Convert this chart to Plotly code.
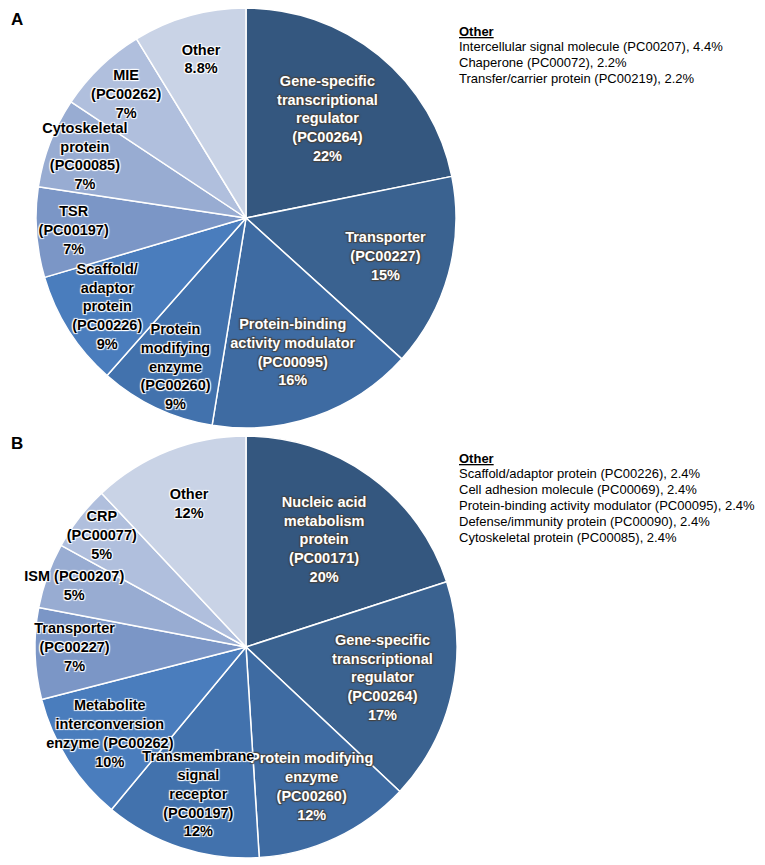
import plotly.graph_objects as go

# ---- Data ----
a_labels = ["Gene-specific transcriptional regulator (PC00264)", "Transporter (PC00227)",
            "Protein-binding activity modulator (PC00095)", "Protein modifying enzyme (PC00260)",
            "Scaffold/adaptor protein (PC00226)", "TSR (PC00197)", "Cytoskeletal protein (PC00085)",
            "MIE (PC00262)", "Other"]
a_values = [22, 15, 16, 9, 9, 7, 7, 7, 8.8]
a_display = ["Gene-specific<br>transcriptional<br>regulator<br>(PC00264)", "Transporter<br>(PC00227)",
             "Protein-binding<br>activity modulator<br>(PC00095)", "Protein<br>modifying<br>enzyme<br>(PC00260)",
             "Scaffold/<br>adaptor<br>protein<br>(PC00226)", "TSR<br>(PC00197)",
             "Cytoskeletal<br>protein<br>(PC00085)", "MIE<br>(PC00262)", "Other"]

b_labels = ["Nucleic acid metabolism protein (PC00171)", "Gene-specific transcriptional regulator (PC00264)",
            "Protein modifying enzyme (PC00260)", "Transmembrane signal receptor (PC00197)",
            "Metabolite interconversion enzyme (PC00262)", "Transporter (PC00227)",
            "ISM (PC00207)", "CRP (PC00077)", "Other"]
b_values = [20, 17, 12, 12, 10, 7, 5, 5, 12]
b_display = ["Nucleic acid<br>metabolism<br>protein<br>(PC00171)",
             "Gene-specific<br>transcriptional<br>regulator<br>(PC00264)",
             "Protein modifying<br>enzyme<br>(PC00260)", "Transmembrane<br>signal<br>receptor<br>(PC00197)",
             "Metabolite<br>interconversion<br>enzyme (PC00262)", "Transporter<br>(PC00227)",
             "ISM (PC00207)", "CRP<br>(PC00077)", "Other"]

a_other = ["Intercellular signal molecule (PC00207), 4.4%", "Chaperone (PC00072), 2.2%",
           "Transfer/carrier protein (PC00219), 2.2%"]
b_other = ["Scaffold/adaptor protein (PC00226), 2.4%", "Cell adhesion molecule (PC00069), 2.4%",
           "Protein-binding activity modulator (PC00095), 2.4%", "Defense/immunity protein (PC00090), 2.4%",
           "Cytoskeletal protein (PC00085), 2.4%"]

# ---- Styles ----
colors = ["#34577f", "#3a6290", "#3e6ba2", "#4272ad", "#4a7dbd", "#7b96c6", "#98acd2", "#b0bfdd", "#c9d3e6"]
text_colors = ["white", "white", "white", "black", "black", "black", "black", "black", "black"]
FONT = "Liberation Sans, Arial, sans-serif"

# page body has an 8px margin; figure covers the rest of the window
OFF = 8
W, H = 765 - OFF, 865 - OFF


def px_x(x):
    return min(max((x - OFF) / W, 0), 1)


def px_y(y):
    return min(max(1 - (y - OFF) / H, 0), 1)


def pct(v):
    return f"{v:g}%"


def add_pie(fig, labels, values, display, domain):
    # filled slices
    fig.add_trace(go.Pie(
        labels=labels, values=values, sort=False, direction="clockwise", rotation=0,
        textinfo="none",
        marker=dict(colors=colors, line=dict(color="white", width=1.5)),
        domain=domain, showlegend=False, hoverinfo="label+value",
    ))
    # text layer on top (transparent slices), so labels may spill over neighbours
    fig.add_trace(go.Pie(
        labels=labels, values=values, sort=False, direction="clockwise", rotation=0,
        text=[f"<b>{d}<br>{pct(v)}</b>" for d, v in zip(display, values)],
        texttemplate="%{text}", textposition="inside", insidetextorientation="horizontal",
        textfont=dict(family=FONT, size=14.5, color=text_colors, shadow="auto"),
        marker=dict(colors=["rgba(0,0,0,0)"] * len(values), line=dict(width=0)),
        domain=domain, showlegend=False, hoverinfo="skip",
    ))


def add_other_block(fig, items, y_first, spacing):
    lines = ["<b><u>Other</u></b>"] + items
    for i, t in enumerate(lines):
        fig.add_annotation(x=px_x(457), y=px_y(y_first + i * spacing), xref="paper", yref="paper",
                           xanchor="left", yanchor="middle", align="left", showarrow=False,
                           font=dict(family=FONT, size=13, color="black"), text=t)


fig = go.Figure()
add_pie(fig, a_labels, a_values, a_display, dict(x=[px_x(36), px_x(456)], y=[px_y(428), px_y(8)]))
add_pie(fig, b_labels, b_values, b_display, dict(x=[px_x(35), px_x(457)], y=[px_y(858), px_y(436)]))

add_other_block(fig, a_other, 31.5, 15.5)
add_other_block(fig, b_other, 458, 15.8)

fig.add_annotation(x=px_x(9), y=1, xref="paper", yref="paper", xanchor="left", yanchor="top",
                   showarrow=False, font=dict(family=FONT, size=17, color="black"), text="<b>A</b>")
fig.add_annotation(x=px_x(9), y=px_y(443), xref="paper", yref="paper", xanchor="left", yanchor="middle",
                   showarrow=False, font=dict(family=FONT, size=17, color="black"), text="<b>B</b>")

fig.update_layout(width=W, height=H, margin=dict(l=0, r=0, t=0, b=0),
                  paper_bgcolor="white", plot_bgcolor="white",
                  uniformtext=dict(minsize=14.5, mode="show"))
fig.write_html("out.html")
